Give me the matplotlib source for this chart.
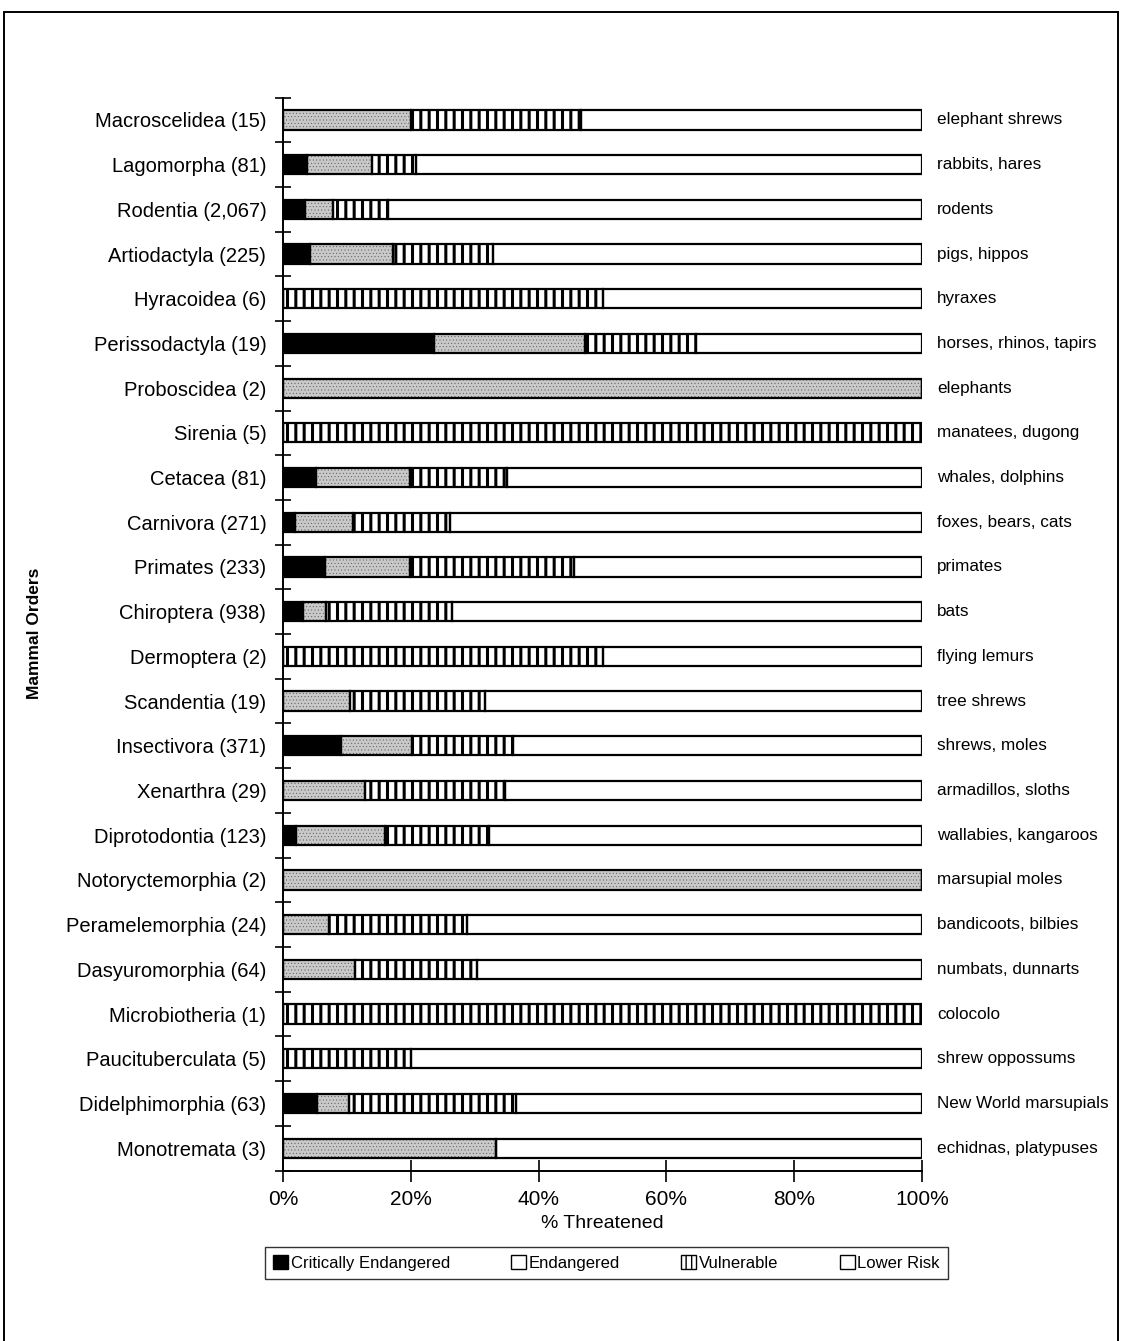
import numpy as np
import matplotlib
matplotlib.use("Agg")
import matplotlib.pyplot as plt
from matplotlib.patches import Patch, Rectangle

orders = ["Macroscelidea (15)", "Lagomorpha (81)", "Rodentia (2,067)", "Artiodactyla (225)",
          "Hyracoidea (6)", "Perissodactyla (19)", "Proboscidea (2)", "Sirenia (5)",
          "Cetacea (81)", "Carnivora (271)", "Primates (233)", "Chiroptera (938)",
          "Dermoptera (2)", "Scandentia (19)", "Insectivora (371)", "Xenarthra (29)",
          "Diprotodontia (123)", "Notoryctemorphia (2)", "Peramelemorphia (24)",
          "Dasyuromorphia (64)", "Microbiotheria (1)", "Paucituberculata (5)",
          "Didelphimorphia (63)", "Monotremata (3)"]
common = ["elephant shrews", "rabbits, hares", "rodents", "pigs, hippos", "hyraxes",
          "horses, rhinos, tapirs", "elephants", "manatees, dugong", "whales, dolphins",
          "foxes, bears, cats", "primates", "bats", "flying lemurs", "tree shrews",
          "shrews, moles", "armadillos, sloths", "wallabies, kangaroos", "marsupial moles",
          "bandicoots, bilbies", "numbats, dunnarts", "colocolo", "shrew oppossums",
          "New World marsupials", "echidnas, platypuses"]
critically_endangered = [0, 3.7, 3.4, 4.2, 0, 23.7, 0, 0, 5.1, 1.9, 6.6, 3.1,
                         0, 0, 9.0, 0, 2.1, 0, 0, 0, 0, 0, 5.3, 0]
endangered = [20.0, 10.2, 4.5, 13.0, 0, 23.5, 100, 0, 14.7, 9.1, 13.3, 3.6,
              0, 10.5, 11.2, 12.8, 13.8, 100, 7.2, 11.2, 0, 0, 5.1, 33.3]
vulnerable = [26.7, 6.9, 8.6, 15.7, 50.0, 17.5, 0, 100, 15.2, 15.1, 25.6, 19.7,
              50.0, 21.1, 15.8, 22.0, 16.3, 0, 21.6, 19.1, 100, 20.0, 26.0, 0]
x_ticks = [0, 20, 40, 60, 80, 100]
x_ticklabels = ["0%", "20%", "40%", "60%", "80%", "100%"]
legend_labels = ["Critically Endangered", "Endangered", "Vulnerable", "Lower Risk"]

cr = np.array(critically_endangered, float)
en = np.array(endangered, float)
vu = np.array(vulnerable, float)
lr = 100 - cr - en - vu
lr[lr < 0] = 0

FONT = ["Liberation Sans", "DejaVu Sans"]
plt.rcParams['font.family'] = FONT

W, H = 1124, 1341
fig = plt.figure(figsize=(W / 100, H / 100), dpi=100)
ax = fig.add_axes([283 / W, 1 - 1170.5 / H, (922 - 283) / W, (1170.5 - 97.6) / H])

y = np.arange(len(orders))
bh = 0.43

ax.barh(y, cr, height=bh, left=0, color="black", linewidth=0)
st = ax.barh(y, en, height=bh, left=cr, facecolor="#c9c9c9", edgecolor="#555555",
             hatch=".....", linewidth=0)
vb = ax.barh(y, vu, height=bh, left=cr + en, facecolor="white", edgecolor="black",
             hatch="||", linewidth=0)
ax.barh(y, lr, height=bh, left=cr + en + vu, facecolor="white", linewidth=0)
for p in st:
    if hasattr(p, "set_hatch_linewidth"):
        p.set_hatch_linewidth(0.3)
for p in vb:
    if hasattr(p, "set_hatch_linewidth"):
        p.set_hatch_linewidth(2.2)
# outlines of segments
for w, l in [(cr, 0), (en, cr), (vu, cr + en), (lr, cr + en + vu)]:
    ax.barh(y, w, height=bh, left=l, facecolor="none", edgecolor="black", linewidth=1.6)

ax.set_xlim(0, 100)
ax.set_ylim(len(orders) - 0.5, -0.5)
ax.set_xticks(x_ticks)
ax.set_xticklabels(x_ticklabels, fontsize=15)
ax.set_yticks(y)
ax.set_yticklabels(orders, fontsize=14.5)
ax.set_yticks(np.arange(-0.5, len(orders), 1), minor=True)
ax.tick_params(axis="y", which="major", length=0, pad=12)
ax.tick_params(axis="y", which="minor", direction="inout", length=12, width=1.2)
ax.tick_params(axis="x", which="major", direction="inout", length=16, width=1.2, pad=6)
for s in ["top", "right"]:
    ax.spines[s].set_visible(False)
for s in ["left", "bottom"]:
    ax.spines[s].set_linewidth(1.4)

for yi, name in zip(y, common):
    ax.text(102.4, yi, name, ha="left", va="center", fontsize=12.3, clip_on=False)

ax.set_xlabel("% Threatened", fontsize=14, labelpad=4)
fig.text(35 / W, 1 - 633 / H, "Mammal Orders", rotation=90, ha="center", va="center",
         fontsize=12.5, fontweight="bold")

handles = [Patch(facecolor="black", edgecolor="black"),
           Patch(facecolor="white", edgecolor="black"),
           Patch(facecolor="white", edgecolor="black", hatch="|||"),
           Patch(facecolor="white", edgecolor="black")]
leg = fig.legend(handles, legend_labels, loc="center", ncol=4,
                 bbox_to_anchor=(265 / W, 1 - 1281 / H, 683 / W, 36 / H), mode="expand",
                 fontsize=12, frameon=True, fancybox=False, handlelength=0.9,
                 handleheight=0.9, handletextpad=0.15, borderaxespad=0, borderpad=0.5)
leg.get_frame().set_edgecolor("black")
leg.get_frame().set_linewidth(1.0)

fig.add_artist(Rectangle((4 / W, -0.01), (1118 - 4) / W, 1.01 - 12 / H,
                         transform=fig.transFigure, facecolor="none",
                         edgecolor="black", linewidth=1.4))

fig.savefig("out.png", dpi=100)
